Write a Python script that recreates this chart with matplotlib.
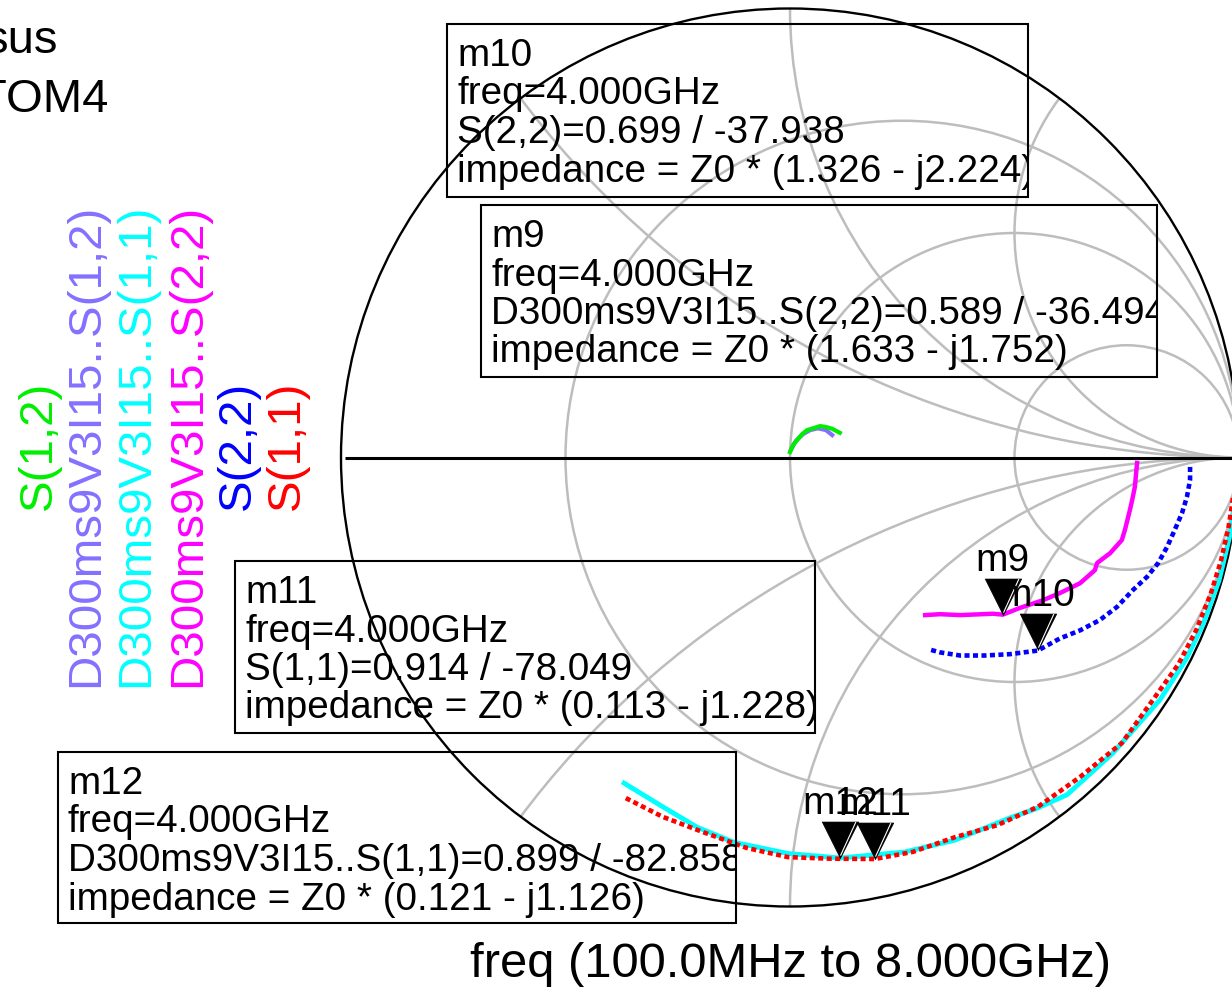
import numpy as np
import matplotlib
matplotlib.use("Agg")
import matplotlib.pyplot as plt
from matplotlib.patches import Circle, Rectangle

plt.rcParams['font.family'] = ['Liberation Sans', 'DejaVu Sans']

# ---------------- traces, 100.0MHz .. 8.000GHz ----------------
# S(1,1): magnitude / angle (deg)
s11_mag = [0.993, 0.991, 0.989, 0.987, 0.985, 0.983, 0.980, 0.972, 0.975, 0.961, 0.954,
           0.940, 0.922, 0.920, 0.914, 0.898, 0.890, 0.875, 0.857, 0.849, 0.842]
s11_deg = [-1.5, -5.0, -9.0, -13.5, -18.0, -23.0, -28.0, -33.8, -40.7, -47.8, -54.6,
           -60.6, -66.5, -72.7, -78.049, -84.3, -90.3, -96.3, -102.8, -109.5, -116.1]

# D300ms9V3I15..S(1,1): magnitude / angle (deg)
d_s11_mag = [0.997, 0.996, 0.995, 0.994, 0.992, 0.990, 0.985, 0.975, 0.972, 0.955,
             0.940, 0.928, 0.915, 0.899, 0.882, 0.866, 0.849, 0.828, 0.814]
d_s11_deg = [-1.5, -5.0, -10.0, -16.0, -22.0, -27.0, -33.2, -42.5, -50.6, -55.0,
             -58.7, -66.7, -73.8, -82.858, -90.3, -98.3, -104.1, -110.0, -117.0]

# S(2,2): real / imag
s22_re = [0.891, 0.891, 0.884, 0.873, 0.857, 0.840, 0.820, 0.795, 0.764, 0.728,
          0.690, 0.646, 0.601, 0.552, 0.490, 0.434, 0.379, 0.334, 0.312]
s22_im = [-0.021, -0.050, -0.088, -0.124, -0.161, -0.199, -0.235, -0.266, -0.295, -0.333,
          -0.362, -0.385, -0.403, -0.430, -0.438, -0.441, -0.441, -0.434, -0.428]

# D300ms9V3I15..S(2,2): real / imag
d_s22_re = [0.773, 0.768, 0.762, 0.757, 0.746, 0.739, 0.713, 0.684, 0.679, 0.646,
            0.601, 0.563, 0.512, 0.474, 0.452, 0.379, 0.334, 0.301]
d_s22_im = [-0.012, -0.066, -0.095, -0.117, -0.161, -0.184, -0.213, -0.235, -0.251, -0.280,
            -0.302, -0.318, -0.335, -0.350, -0.348, -0.351, -0.349, -0.351]

# S(1,2): real / imag
s12_re = [0.000, 0.007, 0.016, 0.027, 0.038, 0.051, 0.067, 0.080, 0.094, 0.111]
s12_im = [0.012, 0.028, 0.039, 0.052, 0.061, 0.065, 0.070, 0.068, 0.064, 0.055]

# D300ms9V3I15..S(1,2): real / imag
d_s12_re = [0.002, 0.013, 0.029, 0.045, 0.062, 0.080, 0.094]
d_s12_im = [0.017, 0.037, 0.052, 0.061, 0.065, 0.061, 0.050]

# ---------------- markers ----------------
marker_names = ['m10', 'm9', 'm11', 'm12']
marker_traces = ['S(2,2)', 'D300ms9V3I15..S(2,2)', 'S(1,1)', 'D300ms9V3I15..S(1,1)']
marker_freq = ['4.000GHz', '4.000GHz', '4.000GHz', '4.000GHz']
marker_mag = [0.699, 0.589, 0.914, 0.899]
marker_deg = [-37.938, -36.494, -78.049, -82.858]
marker_z = ['1.326 - j2.224', '1.633 - j1.752', '0.113 - j1.228', '0.121 - j1.126']

# Smith grid
grid_r = [1 / 3, 1, 3]
grid_x = [0.5, 1, 2, -0.5, -1, -2]

legend_labels = ['S(1,2)', 'D300ms9V3I15..S(1,2)', 'D300ms9V3I15..S(1,1)',
                 'D300ms9V3I15..S(2,2)', 'S(2,2)', 'S(1,1)']

# ---------------- styles ----------------
C_S12, C_DS12, C_DS11, C_DS22, C_S22, C_S11 = ('#00ee00', '#8470ff', '#00ffff',
                                               '#ff00ff', '#0000ff', '#ff0000')
GRID = '#bdbdbd'

W, H, DPI = 1232, 991, 100
fig = plt.figure(figsize=(W / DPI, H / DPI), dpi=DPI)

# chart circle: centre (790, 457.5) px, radius 449 px
cx, cy, R = 790.0, 457.5, 449.0
ax = fig.add_axes([(cx - R) / W, (H - cy - R) / H, 2 * R / W, 2 * R / H])
ax.set_xlim(-1, 1)
ax.set_ylim(-1, 1)
ax.axis('off')

unit = Circle((0, 0), 1.0, transform=ax.transData, fill=False, lw=1.7,
              edgecolor='black', zorder=3, clip_on=False)
ax.add_patch(unit)
clip_circle = Circle((0, 0), 1.0, transform=ax.transData, fill=False, visible=False)
ax.add_patch(clip_circle)

for r in grid_r:
    c = Circle((r / (1 + r), 0), 1 / (1 + r), fill=False, edgecolor=GRID, lw=1.8, zorder=1)
    ax.add_patch(c)
    c.set_clip_path(clip_circle)
for x in grid_x:
    c = Circle((1, 1 / x), 1 / abs(x), fill=False, edgecolor=GRID, lw=1.8, zorder=1)
    ax.add_patch(c)
    c.set_clip_path(clip_circle)

ax.plot([-0.99, 1], [0, 0], color='black', lw=2.2, zorder=2, clip_on=False,
        solid_capstyle='butt')


def polar(mag, deg):
    g = np.asarray(mag) * np.exp(1j * np.deg2rad(deg))
    return g.real, g.imag


dotted = (0, (1.1, 0.75))
ax.plot(d_s12_re, d_s12_im, color=C_DS12, lw=3.0, zorder=4, clip_on=False)
ax.plot(s12_re, s12_im, color=C_S12, lw=3.0, zorder=4, clip_on=False)
ax.plot(*polar(d_s11_mag, d_s11_deg), color=C_DS11, lw=3.5, zorder=4, clip_on=False)
ax.plot(d_s22_re, d_s22_im, color=C_DS22, lw=3.2, zorder=4, clip_on=False)
ax.plot(s22_re, s22_im, color=C_S22, lw=3.3, ls=dotted, zorder=4, clip_on=False)
ax.plot(*polar(s11_mag, s11_deg), color=C_S11, lw=3.3, ls=dotted, zorder=4, clip_on=False)

# marker triangles, tip on the marked point
tri = [(0, 0), (-1, 2), (1, 2), (0, 0)]
slit = [(0.0, 0.15), (0.8, 1.9)]
mx, my = polar(marker_mag, marker_deg)
ax.plot(mx, my, ls='none', marker=tri, markersize=52.5, markerfacecolor='black',
        markeredgecolor='black', markeredgewidth=0.5, zorder=6, clip_on=False)
ax.plot(mx, my, ls='none', marker=slit, markersize=52.5, markerfacecolor='none',
        markeredgecolor='white', markeredgewidth=0.8, zorder=7, clip_on=False)
for name, gx, gy in zip(marker_names, mx, my):
    ax.annotate(name, xy=(gx, gy), xytext=(0, 44), textcoords='offset pixels',
                ha='center', va='baseline', fontsize=28, color='black', zorder=8)

# ---------------- overlay in pixel coordinates ----------------
ov = fig.add_axes([0, 0, 1, 1], zorder=5)
ov.set_xlim(0, W)
ov.set_ylim(H, 0)
ov.axis('off')
ov.patch.set_alpha(0)

# readout boxes (left, top, width, height)
boxes = [(447, 24, 581, 173), (481, 205, 676, 172), (235, 561, 580, 172), (58, 752, 678, 171)]
for (bl, bt, bw, bh), name, trace, fq, mg, dg, z in zip(
        boxes, marker_names, marker_traces, marker_freq, marker_mag, marker_deg, marker_z):
    rect = Rectangle((bl, bt), bw, bh, fill=False, edgecolor='black', lw=1.5)
    ov.add_patch(rect)
    lines = [name, f'freq={fq}', f'{trace}={mg:.3f} / {dg:.3f}', f'impedance = Z0 * ({z})']
    for i, s in enumerate(lines):
        t = ov.text(bl + 10, bt + 42 + 38.5 * i, s, fontsize=27.8, ha='left',
                    va='baseline', color='black', clip_on=True)
        t.set_clip_path(rect)

# vertical trace legend
leg_colors = [C_S12, C_DS12, C_DS11, C_DS22, C_S22, C_S11]
leg_x = [38.5, 86.5, 136.5, 188.5, 237.5, 286.5]
for s, col, lx in zip(legend_labels, leg_colors, leg_x):
    ov.text(lx, 445, s, rotation=90, fontsize=34.2, color=col, ha='center', va='center')

# title fragments and sweep caption
ov.text(58, 53, 'sus', fontsize=34, ha='right', va='baseline')
ov.text(108, 112, 'TOM4', fontsize=34, ha='right', va='baseline')
ov.text(790, 977, 'freq (100.0MHz to 8.000GHz)', fontsize=35.2, ha='center', va='baseline')

fig.savefig('out.png', dpi=DPI)
